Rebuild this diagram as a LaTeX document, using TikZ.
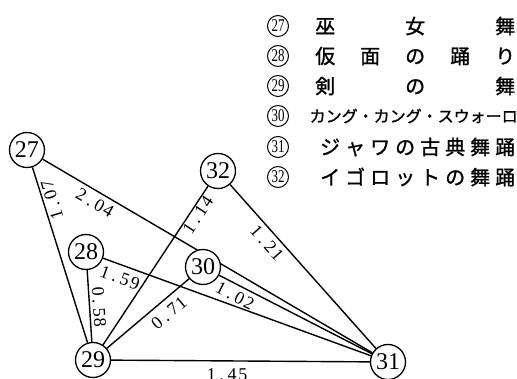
\documentclass[tikz,border=0pt]{standalone}
\usepackage{fontspec}
\usepackage{graphicx}
\setmainfont{Liberation Serif}
\newfontfamily\jp[FakeBold=1.2]{Noto Sans CJK JP}
\usetikzlibrary{backgrounds}
\newcommand\dgt[1]{\makebox[10.5pt]{#1}}
\begin{document}
\begin{tikzpicture}[x=1pt,y=-1pt,
  nd/.style={circle,draw,fill=white,line width=1.3pt,minimum size=35pt,inner sep=0pt,font=\fontsize{24}{24}\selectfont},
  ed/.style={line width=1.4pt},
  lb/.style={inner sep=0pt,font=\fontsize{18}{18}\selectfont},
  lg/.style={circle,draw,line width=1pt,minimum size=21pt,inner sep=0pt,font=\fontsize{18}{18}\selectfont},
  jt/.style={anchor=west,inner sep=0pt,font=\jp\fontsize{20}{20}\selectfont}]
\useasboundingbox (0,0) rectangle (517,379);
% main nodes
\node[nd] (n27) at (27,150) {27};
\node[nd] (n28) at (86,252) {28};
\node[nd] (n29) at (93,360) {29};
\node[nd] (n30) at (203,267) {30};
\node[nd] (n31) at (388,362) {31};
\node[nd] (n32) at (218,171) {32};
% connectors
\begin{pgfonlayer}{background}
\draw[ed] (n27)--(n29);
\draw[ed] (n27)--(n31);
\draw[ed] (n28)--(n29);
\draw[ed] (n28)--(n31);
\draw[ed] (n29)--(n30);
\draw[ed] (n29)--(n32);
\draw[ed] (n29)--(n31);
\draw[ed] (n30)--(n31);
\draw[ed] (n32)--(n31);
\end{pgfonlayer}
% edge labels
\node[lb,rotate=107] (e1) at (52,200) {\dgt1\dgt.\dgt0\dgt7};
\node[lb,rotate=-30.4] (e2) at (95,203) {\dgt2\dgt.\dgt0\dgt4};
\node[lb,rotate=56.5] (e3) at (198,215) {\dgt1\dgt.\dgt1\dgt4};
\node[lb,rotate=-48.3] (e4) at (267,243) {\dgt1\dgt.\dgt2\dgt1};
\node[lb,rotate=-86.3] (e5) at (99,307) {\dgt0\dgt.\dgt5\dgt8};
\node[lb,rotate=-20] (e6) at (120,278) {\dgt1\dgt.\dgt5\dgt9};
\node[lb,rotate=40.2] (e7) at (169,313) {\dgt0\dgt.\dgt7\dgt1};
\node[lb,rotate=-27.2] (e8) at (235,296) {\dgt1\dgt.\dgt0\dgt2};
\node[lb] (e9) at (227,375) {\dgt1\dgt.\dgt4\dgt5};
% legend
\foreach \n/\y in {27/26,28/56,29/86,30/116,31/147,32/177}
  \node[lg] (l\n) at (278,\y) {\scalebox{0.72}[1]{\n}};
\node[jt] (t27) at (315,26) {\makebox[200pt]{巫\hfill 女\hfill 舞}};
\node[jt] (t28) at (315,56) {\makebox[200pt]{仮\hfill 面\hfill の\hfill 踊\hfill り}};
\node[jt] (t29) at (315,86) {\makebox[200pt]{剣\hfill の\hfill 舞}};
\node[jt,font=\jp\fontsize{16}{16}\selectfont] (t30) at (315,116) {\makebox[197pt]{カ\hfill ン\hfill グ\hfill ・\hfill カ\hfill ン\hfill グ\hfill ・\hfill ス\hfill ウ\hfill ォ\hfill ー\hfill ロ}};
\node[jt] (t31) at (320,147) {\makebox[195pt]{ジ\hfill ャ\hfill ワ\hfill の\hfill 古\hfill 典\hfill 舞\hfill 踊}};
\node[jt] (t32) at (320,177) {\makebox[195pt]{イ\hfill ゴ\hfill ロ\hfill ッ\hfill ト\hfill の\hfill 舞\hfill 踊}};
\end{tikzpicture}
\end{document}
